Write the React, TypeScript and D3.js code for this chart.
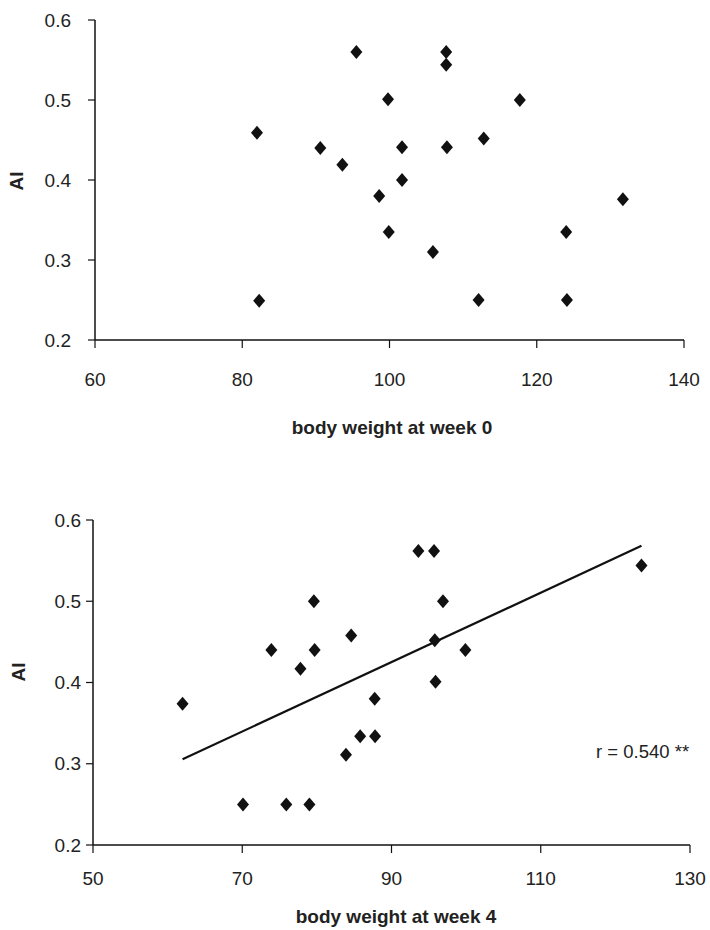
import React from "react";
import * as d3 from "d3";

const week0X = [82, 82.3, 90.6, 93.6, 95.5, 107.7, 107.7, 99.8, 117.7, 112.8, 101.7, 107.8, 101.7, 98.6, 131.7, 99.9, 124, 105.9, 112.1, 124.1];
const week0Y = [0.459, 0.249, 0.44, 0.419, 0.56, 0.56, 0.544, 0.501, 0.5, 0.452, 0.441, 0.441, 0.4, 0.38, 0.376, 0.335, 0.335, 0.31, 0.25, 0.25];

const week4X = [62, 70.1, 75.9, 79, 73.9, 77.8, 79.6, 79.7, 84.6, 83.9, 85.8, 87.8, 87.75, 93.6, 95.7, 96.9, 95.8, 99.9, 95.9, 123.5];
const week4Y = [0.374, 0.25, 0.25, 0.25, 0.44, 0.417, 0.5, 0.44, 0.458, 0.311, 0.334, 0.334, 0.38, 0.562, 0.562, 0.5, 0.452, 0.44, 0.401, 0.544];

const yTicks = [0.2, 0.3, 0.4, 0.5, 0.6];
const xTicksTop = [60, 80, 100, 120, 140];
const xTicksBottom = [50, 70, 90, 110, 130];

const FONT = "'Liberation Sans', Arial, sans-serif";

function diamondPath(cx: number, cy: number, w: number, h: number) {
  const p = d3.path();
  p.moveTo(cx, cy - h);
  p.lineTo(cx + w, cy);
  p.lineTo(cx, cy + h);
  p.lineTo(cx - w, cy);
  p.closePath();
  return p.toString();
}

type PanelProps = {
  xs: number[];
  ys: number[];
  xDomain: [number, number];
  xTicks: number[];
  xRange: [number, number];
  yRange: [number, number];
  xLabel: string;
  xLabelY: number;
  xLabelX: number;
  tickLabelY: number;
  yLabelRight: number;
  yAxisTitleX: number;
  yAxisTitleY: number;
  fit?: boolean;
};

function Panel(props: PanelProps) {
  const { xs, ys, xDomain, xTicks, xRange, yRange, xLabel, xLabelY, xLabelX, tickLabelY, yLabelRight, yAxisTitleX, yAxisTitleY, fit } = props;
  const x = d3.scaleLinear().domain(xDomain).range(xRange);
  const y = d3.scaleLinear().domain([0.2, 0.6]).range(yRange);
  const x0 = xRange[0];
  const yb = yRange[0];

  let fitLine: string | null = null;
  if (fit) {
    const mx = d3.mean(xs)!;
    const my = d3.mean(ys)!;
    let sxy = 0, sxx = 0;
    xs.forEach((v, i) => {
      sxy += (v - mx) * (ys[i] - my);
      sxx += (v - mx) * (v - mx);
    });
    const b = sxy / sxx;
    const a = my - b * mx;
    const ext = d3.extent(xs) as [number, number];
    fitLine = d3.line<number>()
      .x((d) => x(d))
      .y((d) => y(a + b * d))(ext);
  }

  return (
    <g>
      <line x1={x0} x2={x0} y1={y(0.6)} y2={yb} stroke="#111" strokeWidth={1.5} />
      <line x1={x0} x2={xRange[1]} y1={yb} y2={yb} stroke="#111" strokeWidth={1.5} />
      {yTicks.map((t) => (
        <g key={"y" + t}>
          <line x1={x0 - 7} x2={x0} y1={y(t)} y2={y(t)} stroke="#111" strokeWidth={1.2} />
          <text x={yLabelRight} y={y(t)} dy="0.35em" textAnchor="end" fontSize={19} fontFamily={FONT} fill="#222">
            {t.toFixed(1)}
          </text>
        </g>
      ))}
      {xTicks.map((t) => (
        <g key={"x" + t}>
          <line x1={x(t)} x2={x(t)} y1={yb} y2={yb + 8} stroke="#111" strokeWidth={1.2} />
          <text x={x(t)} y={tickLabelY} textAnchor="middle" fontSize={19} fontFamily={FONT} fill="#222">
            {t}
          </text>
        </g>
      ))}
      <text
        transform={`translate(${yAxisTitleX}, ${yAxisTitleY}) rotate(-90)`}
        textAnchor="middle"
        fontSize={19}
        fontWeight="bold"
        fontFamily={FONT}
        fill="#222"
      >
        AI
      </text>
      <text x={xLabelX} y={xLabelY} textAnchor="middle" fontSize={19} fontWeight="bold" fontFamily={FONT} fill="#222">
        {xLabel}
      </text>
      {fitLine && <path d={fitLine} fill="none" stroke="#111" strokeWidth={2.2} />}
      {xs.map((v, i) => (
        <path key={i} d={diamondPath(x(v), y(ys[i]), 6, 7)} fill="#111" />
      ))}
    </g>
  );
}

export default function App() {
  return (
    <svg width={710} height={930} style={{ position: "absolute", left: 0, top: 0, background: "#fff" }}>
      <rect width={710} height={930} fill="#fff" />
      <Panel
        xs={week0X}
        ys={week0Y}
        xDomain={[60, 140]}
        xTicks={xTicksTop}
        xRange={[95, 684]}
        yRange={[340, 20]}
        xLabel="body weight at week 0"
        xLabelX={392}
        xLabelY={434}
        tickLabelY={386}
        yLabelRight={71}
        yAxisTitleX={23}
        yAxisTitleY={181}
      />
      <Panel
        xs={week4X}
        ys={week4Y}
        xDomain={[50, 130]}
        xTicks={xTicksBottom}
        xRange={[93, 690]}
        yRange={[845, 520]}
        xLabel="body weight at week 4"
        xLabelX={396}
        xLabelY={923}
        tickLabelY={885}
        yLabelRight={81}
        yAxisTitleX={25}
        yAxisTitleY={672}
        fit
      />
      <text x={596} y={758} fontSize={18.5} fontFamily={FONT} fill="#222">
        r = 0.540 **
      </text>
    </svg>
  );
}
